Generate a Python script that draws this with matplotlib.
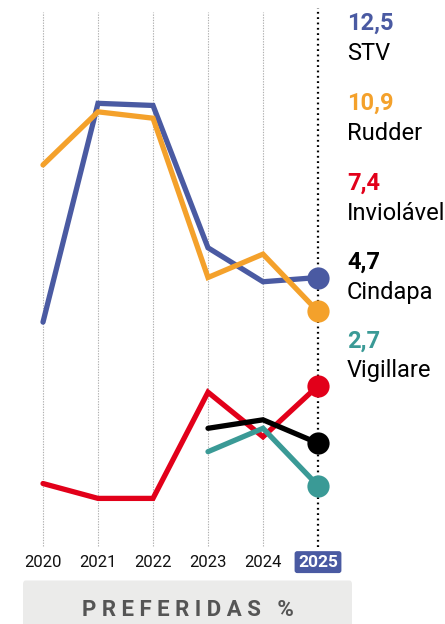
import matplotlib
matplotlib.use("Agg")
import matplotlib.pyplot as plt
from matplotlib.patches import FancyBboxPatch

plt.rcParams["font.family"] = ["Roboto", "DejaVu Sans"]

years = [2020, 2021, 2022, 2023, 2024, 2025]
stv = [10.4, 20.7, 20.6, 13.9, 12.3, 12.5]
rudder = [17.8, 20.3, 20.0, 12.5, 13.6, 10.9]
inviolavel = [2.8, 2.1, 2.1, 7.1, 5.0, 7.4]
late_years = [2023, 2024, 2025]
cindapa = [5.4, 5.8, 4.7]
vigillare = [4.3, 5.4, 2.7]

names = ["STV", "Rudder", "Inviolável", "Cindapa", "Vigillare"]
labels = ["12,5", "10,9", "7,4", "4,7", "2,7"]
colors = ["#4a5aa2", "#f4a12b", "#e2001a", "#000000", "#3a9a96"]

fig = plt.figure(figsize=(4.45, 6.24), dpi=100)
ax = fig.add_axes([43 / 445, 81 / 624, 275 / 445, 531 / 624])
ax.set_xlim(2020, 2025)
ax.set_ylim(0, 25)
ax.axis("off")

# grid lines
for yr in years[:-1]:
    ax.plot([yr, yr], [-0.15, 25], color="#b0b0b0", lw=0.8, ls=(0, (1.2, 1.2)),
            clip_on=False, zorder=1)
ax.plot([2025, 2025], [-0.2, 25.2], color="black", lw=1.6, ls=(0, (0.8, 1.6)),
        clip_on=False, zorder=1)

series = [(years, stv), (years, rudder), (years, inviolavel),
          (late_years, cindapa), (late_years, vigillare)]
order = [2, 4, 3, 1, 0]
for i in order:
    xs, ys = series[i]
    ax.plot(xs, ys, color=colors[i], lw=3.8, solid_joinstyle="miter",
            solid_capstyle="round", clip_on=False, zorder=3 + i * 0.1)
for i in order:
    xs, ys = series[i]
    ax.plot(xs[-1], ys[-1], "o", color=colors[i], ms=16, mew=0,
            clip_on=False, zorder=5)

# labels on the right
label_y = [23, 103, 183, 262, 341]
for name, lab, c, py in zip(names, labels, colors, label_y):
    fig.text(347 / 445, 1 - py / 624, lab, color=c, fontsize=17, fontweight="bold",
             va="center", ha="left")
    fig.text(347 / 445, 1 - (py + 30) / 624, name, color="black", fontsize=17,
             va="center", ha="left")

# year labels
for yr in years[:-1]:
    ax.text(yr, -0.9, str(yr), ha="center", va="center", fontsize=12,
            color="#111111")
ax.text(2025, -0.9, "2025", ha="center", va="center", fontsize=12.5,
        fontweight="bold", color="white",
        bbox=dict(boxstyle="round,pad=0.2,rounding_size=0.15", fc="#4a5aa2",
                  ec="none"))

# bottom box
fig.patches.append(FancyBboxPatch((23 / 445, -0.02), 329 / 445, 56 / 624,
                                  boxstyle="round,pad=0,rounding_size=0.006",
                                  transform=fig.transFigure, fc="#ebebea",
                                  ec="none"))
fig.text(188 / 445, 1 - 610 / 624, "P R E F E R I D A S   %", ha="center",
         va="center", fontsize=16, fontweight="bold", color="#555555")

fig.savefig("out.png")
